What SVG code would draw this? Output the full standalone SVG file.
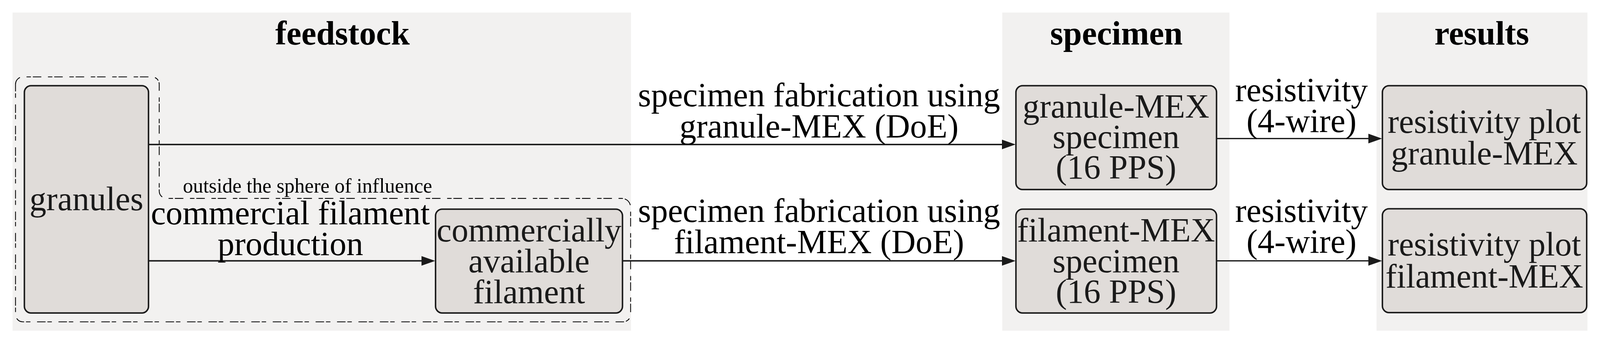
<svg xmlns="http://www.w3.org/2000/svg" width="4331" height="924" viewBox="0 0 4331 924" preserveAspectRatio="xMinYMin meet" style="width:100vw;height:100vh;display:block">
<style>
.panel{fill:#f2f1f0;stroke:none}
.box{fill:#e0dcd9;stroke:#1a1a1a;stroke-width:4}
.t{font-family:"Liberation Serif","Times New Roman",serif;font-size:91px;fill:#000;text-anchor:middle}
.bt{font-family:"Liberation Serif","Times New Roman",serif;font-size:91px;fill:#1a1a1a;text-anchor:middle}
.h{font-family:"Liberation Serif","Times New Roman",serif;font-size:91px;font-weight:bold;fill:#000;text-anchor:middle}
.s{font-family:"Liberation Serif","Times New Roman",serif;font-size:55px;fill:#000}
.c{fill:none;stroke:#1a1a1a;stroke-width:4}
.c2{fill:none;stroke:#1a1a1a;stroke-width:3.4}
.dash{fill:none;stroke:#000;stroke-width:2.2;stroke-dasharray:23 18 12 5}
</style>
<defs>
<marker id="arr" markerUnits="userSpaceOnUse" markerWidth="40" markerHeight="30" refX="24" refY="13" orient="auto">
<path d="M0,0 L37,13 L0,26 z" fill="#1a1a1a"/>
</marker>
</defs>
<rect width="4331" height="924" fill="#fff"/>
<g id="panel-feedstock">
<rect class="panel" x="34" y="34" width="1674" height="861"/>
<text class="h" x="927" y="121">feedstock</text>
</g>
<g id="panel-specimen">
<rect class="panel" x="2713" y="34" width="615" height="861"/>
<text class="h" x="3022" y="121">specimen</text>
</g>
<g id="panel-results">
<rect class="panel" x="3726" y="34" width="571" height="861"/>
<text class="h" x="4011" y="121">results</text>
</g>
<g id="sphere-of-influence">
<path class="dash" d="M42,228 A20,20 0 0 1 62,208 H411 A20,20 0 0 1 431,228 V517 A20,20 0 0 0 451,537 H1683 A24,24 0 0 1 1707,561 V851 A20,20 0 0 1 1687,871 H62 A20,20 0 0 1 42,851 Z"/>
<text class="s" x="495" y="521">outside the sphere of influence</text>
</g>
<g id="connectors">
<path class="c" d="M402,391 H2736" marker-end="url(#arr)"/>
<path class="c" d="M402,706 H1165" marker-end="url(#arr)"/>
<path class="c" d="M1685,706 H2736" marker-end="url(#arr)"/>
<path class="c2" d="M3293,375 H3728" marker-end="url(#arr)"/>
<path class="c2" d="M3293,706 H3728" marker-end="url(#arr)"/>
<text class="t" x="786" y="607">commercial filament</text>
<text class="t" x="786" y="691">production</text>
<text class="t" x="2217" y="288">specimen fabrication using</text>
<text class="t" x="2217" y="372">granule-MEX (DoE)</text>
<text class="t" x="2217" y="601">specimen fabrication using</text>
<text class="t" x="2217" y="685">filament-MEX (DoE)</text>
<text class="t" x="3523" y="274">resistivity</text>
<text class="t" x="3523" y="357">(4-wire)</text>
<text class="t" x="3523" y="601">resistivity</text>
<text class="t" x="3523" y="684">(4-wire)</text>
</g>
<g id="node-granules">
<rect class="box" x="66" y="232" width="336" height="615" rx="18"/>
<text class="bt" x="234" y="569">granules</text>
</g>
<g id="node-commercial-filament">
<rect class="box" x="1179" y="566" width="506" height="281" rx="18"/>
<text class="bt" x="1432" y="654">commercially</text>
<text class="bt" x="1432" y="737">available</text>
<text class="bt" x="1432" y="821">filament</text>
</g>
<g id="node-granule-specimen">
<rect class="box" x="2750" y="232" width="543" height="281" rx="18"/>
<text class="bt" x="3021" y="318">granule-MEX</text>
<text class="bt" x="3021" y="401">specimen</text>
<text class="bt" x="3021" y="483">(16 PPS)</text>
</g>
<g id="node-filament-specimen">
<rect class="box" x="2750" y="566" width="543" height="281" rx="18"/>
<text class="bt" x="3021" y="653">filament-MEX</text>
<text class="bt" x="3021" y="737">specimen</text>
<text class="bt" x="3021" y="819">(16 PPS)</text>
</g>
<g id="node-result-granule">
<rect class="box" x="3742" y="232" width="553" height="281" rx="18"/>
<text class="bt" x="4018" y="359">resistivity plot</text>
<text class="bt" x="4018" y="445">granule-MEX</text>
</g>
<g id="node-result-filament">
<rect class="box" x="3742" y="565" width="553" height="281" rx="18"/>
<text class="bt" x="4018" y="692">resistivity plot</text>
<text class="bt" x="4018" y="778">filament-MEX</text>
</g>
</svg>
